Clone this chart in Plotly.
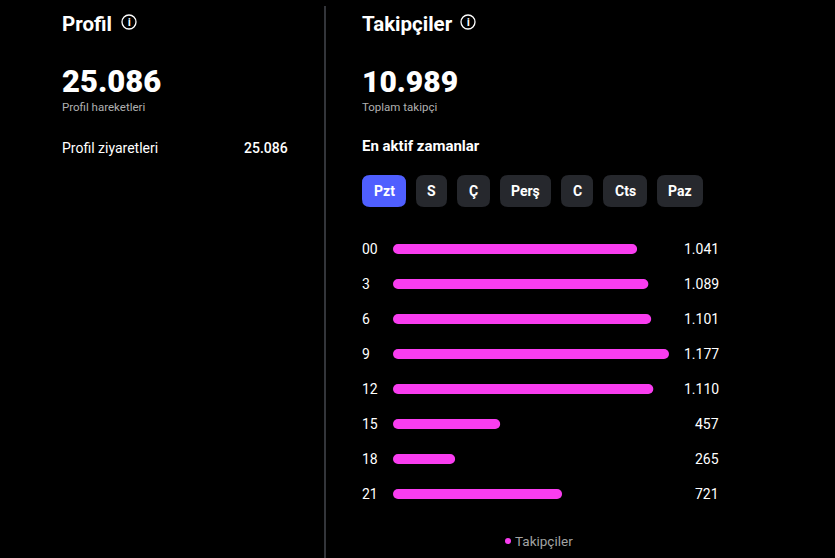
import plotly.graph_objects as go

W = 835
H = 558

saatler = ["00", "3", "6", "9", "12", "15", "18", "21"]
takipciler = [1041, 1089, 1101, 1177, 1110, 457, 265, 721]
degerler = ["1.041", "1.089", "1.101", "1.177", "1.110", "457", "265", "721"]
gunler = ["Pzt", "S", "Ç", "Perş", "C", "Cts", "Paz"]
gun_x = [(362, 406), (416, 447), (457, 490), (500, 551), (561, 593), (603, 647), (657, 703)]

PEMBE = "#f93df0"
FONT = "Roboto"


def px(x):
    return x / W


def py(y):
    return 1 - y / H


def yazi(x, y, text, size, weight=400, color="#ffffff", anchor="left"):
    kay = {"left": -2, "right": 2, "center": 0}[anchor]
    return dict(xref="paper", yref="paper", x=px(x), y=py(y), text=text, showarrow=False,
                xanchor=anchor, yanchor="middle", xshift=kay,
                font=dict(family=FONT, size=size, color=color, weight=weight))


def kutu(x0, y0, x1, y1, r, color):
    # yuvarlak koseli dikdortgen
    p = (f"M {px(x0 + r)} {py(y0)} L {px(x1 - r)} {py(y0)} Q {px(x1)} {py(y0)} {px(x1)} {py(y0 + r)} "
         f"L {px(x1)} {py(y1 - r)} Q {px(x1)} {py(y1)} {px(x1 - r)} {py(y1)} "
         f"L {px(x0 + r)} {py(y1)} Q {px(x0)} {py(y1)} {px(x0)} {py(y1 - r)} "
         f"L {px(x0)} {py(y0 + r)} Q {px(x0)} {py(y0)} {px(x0 + r)} {py(y0)} Z")
    return dict(type="path", xref="paper", yref="paper", path=p, fillcolor=color, line=dict(width=0))


def daire(cx, cy, r, fill, line_w=0):
    return dict(type="circle", xref="paper", yref="paper",
                x0=px(cx - r), x1=px(cx + r), y0=py(cy + r), y1=py(cy - r),
                fillcolor=fill, line=dict(width=line_w, color="#ffffff"))


fig = go.Figure()
# base verilince iki uc da yuvarlak oluyor
fig.add_trace(go.Bar(x=takipciler, base=[0] * len(takipciler), y=saatler, orientation="h",
                     marker=dict(color=PEMBE, line=dict(width=0)), name="Takipçiler", showlegend=False))

notlar = [
    yazi(62, 24, "Profil", 20.5, 700),
    yazi(62, 82, "25.086", 31, 900),
    yazi(62, 107, "Profil hareketleri", 11.5, 400, "#b0b0b0"),
    yazi(62, 148, "Profil ziyaretleri", 14),
    yazi(288, 148, "25.086", 14, 500, anchor="right"),
    yazi(362, 24, "Takipçiler", 20.5, 700),
    yazi(362, 82, "10.989", 30, 900),
    yazi(362, 107, "Toplam takipçi", 11.5, 400, "#b0b0b0"),
    yazi(362, 146, "En aktif zamanlar", 15, 700),
    yazi(129, 22, "i", 10, 800, anchor="center"),
    yazi(468, 22, "i", 10, 800, anchor="center"),
    yazi(515, 541, "Takipçiler", 13.5, 400, "#a3a3a3"),
]
sekiller = [
    dict(type="line", xref="paper", yref="paper", x0=px(325), x1=px(325), y0=py(6), y1=0,
         line=dict(color="#33353a", width=2)),
    daire(129, 22, 7, "rgba(0,0,0,0)", 1.3),
    daire(468, 22, 7, "rgba(0,0,0,0)", 1.3),
    daire(508, 541, 3, PEMBE),
]
for i, gun in enumerate(gunler):
    x0, x1 = gun_x[i]
    sekiller.append(kutu(x0, 175, x1, 207, 8, "#4f5fff" if i == 0 else "#26282d"))
    notlar.append(yazi((x0 + x1) / 2, 191, gun, 14, 700, anchor="center"))
# kategori ekseninde sayi gibi duran etiketler icin sira numarasi kullaniliyor
for i, (s, d) in enumerate(zip(saatler, degerler)):
    notlar.append(dict(xref="paper", yref="y", x=px(362), y=i, text=s, showarrow=False, xanchor="left", xshift=-2,
                       font=dict(family=FONT, size=14, color="#ffffff")))
    notlar.append(dict(xref="paper", yref="y", x=px(718), y=i, text=d, showarrow=False, xanchor="right", xshift=3,
                       font=dict(family=FONT, size=14, color="#ffffff")))

fig.update_layout(
    width=W, height=H, margin=dict(l=0, r=0, t=0, b=0),
    paper_bgcolor="#000000", plot_bgcolor="#000000",
    barmode="overlay", bargap=0.714, barcornerradius=5, showlegend=False,
    xaxis=dict(domain=[px(393), px(669)], range=[0, 1177], visible=False),
    yaxis=dict(domain=[py(511.5), py(231.5)], type="category", categoryorder="array", categoryarray=saatler,
               range=[7.5, -0.5], visible=False),
    annotations=notlar, shapes=sekiller,
)
fig.write_html("out.html", config=dict(displayModeBar=False),
               post_script="document.body.style.margin='0';")
